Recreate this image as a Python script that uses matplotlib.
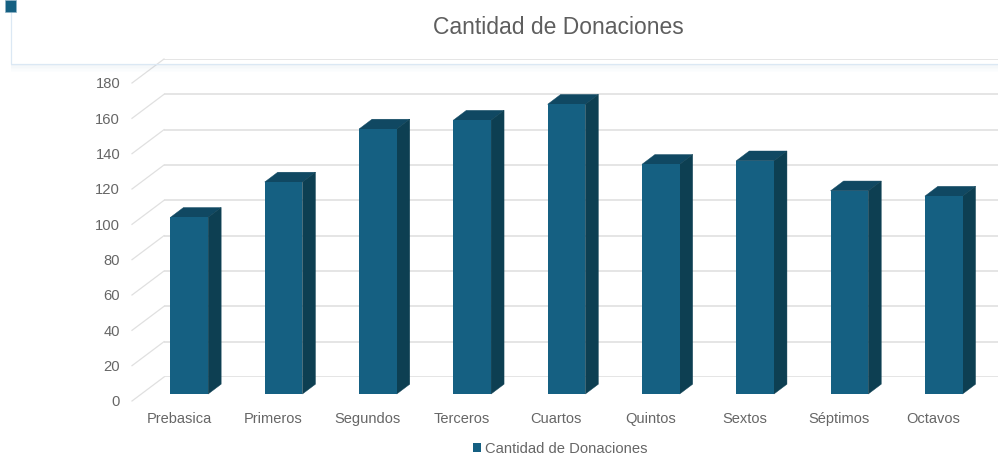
import matplotlib
matplotlib.use("Agg")
import matplotlib.pyplot as plt
from matplotlib.patches import Polygon, Rectangle
from matplotlib.lines import Line2D
from matplotlib.transforms import ScaledTranslation

categories = ["Prebasica", "Primeros", "Segundos", "Terceros", "Cuartos",
              "Quintos", "Sextos", "Séptimos", "Octavos"]
values = [100, 120, 150, 155, 164, 130, 132, 115, 112]
y_ticks = [0, 20, 40, 60, 80, 100, 120, 140, 160, 180]
series_name = "Cantidad de Donaciones"
title = "Cantidad de Donaciones"

W, H = 998, 455
FRONT, TOP, SIDE = "#156082", "#104862", "#0D3F52"
GRID, FRAME, TEXT = "#E0E0E0", "#DBE8F4", "#666666"
plt.rcParams["font.family"] = ["Liberation Sans", "DejaVu Sans"]

fig = plt.figure(figsize=(W / 100, H / 100), dpi=100)
ax = fig.add_axes([164 / W, 1 - 377 / H, (W - 164) / W, (377 - 59) / H])
ax.set_xlim(-0.509, 8.335)
ax.set_ylim(0, 180)
px_x = (W - 164) / (8.335 + 0.509)
px_y = (377 - 59) / 180


def shift(dx, dy):
    return ax.transData + ScaledTranslation(dx / 100, dy / 100, fig.dpi_scale_trans)


# chart-frame remnant behind the plot
for i, a in enumerate([0.10, 0.07, 0.05, 0.03, 0.015]):
    fig.add_artist(Rectangle((11 / W, 1 - (66 + i * 1.5) / H), (W - 11) / W, 1.5 / H,
                             transform=fig.transFigure, fc="#7FA0C0", ec="none", alpha=a))
fig.add_artist(Line2D([10.7 / W, 10.7 / W, 1], [1, 1 - 64.3 / H, 1 - 64.3 / H],
                      transform=fig.transFigure, color=FRAME, lw=0.9, zorder=1))
fig.add_artist(Rectangle((4.5 / W, 1 - 12.3 / H), 11.5 / W, 12.3 / H,
                         transform=fig.transFigure, fc=FRONT, ec="#8FB3C7", lw=0.5, zorder=2))

# walls and floor
ax.patch.set_visible(False)
for s in ax.spines.values():
    s.set_visible(False)
ax.set_axisbelow(True)
for v in y_ticks:
    ax.plot([-0.509, -0.509 - 32 / px_x], [v, v - 24 / px_y], color=GRID, lw=0.9,
            clip_on=False, zorder=1)

# bars, front plane placed forward of the back wall
front = shift(-22.7, -17)
bar_w = 37.7 / px_x
dx_d = 13 / px_x
dy_d = 9.8 / px_y
xs = list(range(len(categories)))
ax.bar(xs, values, width=bar_w, color=FRONT, transform=front, clip_on=False,
       zorder=3.2, label=series_name, linewidth=0)
for x, v in zip(xs, values):
    l, r = x - bar_w / 2, x + bar_w / 2
    ax.add_patch(Polygon([(l, v), (r, v), (r + dx_d, v + dy_d), (l + dx_d, v + dy_d)],
                         closed=True, fc=TOP, ec=TOP, lw=0.3, transform=front,
                         clip_on=False, zorder=3))
    ax.add_patch(Polygon([(r, 0), (r + dx_d, dy_d), (r + dx_d, v + dy_d), (r, v)],
                         closed=True, fc=SIDE, ec=SIDE, lw=0.3, transform=front,
                         clip_on=False, zorder=3))
ax.set_xlim(-0.509, 8.335)
ax.set_ylim(0, 180)

# axes text
ax.set_yticks(y_ticks)
ax.set_yticklabels([str(v) for v in y_ticks])
ax.set_xticks(xs)
ax.set_xticklabels(categories)
ax.tick_params(axis="y", length=0, pad=31.5, labelsize=10.6, labelcolor=TEXT)
ax.tick_params(axis="x", length=0, pad=25, labelsize=10.5, labelcolor=TEXT)
ax.yaxis.grid(True, color=GRID, lw=1.2)
ax.xaxis.grid(False)
y_off = ScaledTranslation(0, -24 / 100, fig.dpi_scale_trans)
x_off = ScaledTranslation(-33 / 100, 0, fig.dpi_scale_trans)
for lab in ax.get_yticklabels():
    lab.set_transform(lab.get_transform() + y_off)
for lab in ax.get_xticklabels():
    lab.set_transform(lab.get_transform() + x_off)

fig.text(558 / W, 1 - 27 / H, title, ha="center", va="center", fontsize=16.5, color="#5E5E5E")
fig.legend(loc="center", bbox_to_anchor=(560 / W, 1 - 449 / H), frameon=False,
           fontsize=10.65, labelcolor=TEXT, handlelength=0.55, handleheight=0.55,
           handletextpad=0.25, borderpad=0, borderaxespad=0)

fig.savefig("out.png", dpi=100)
